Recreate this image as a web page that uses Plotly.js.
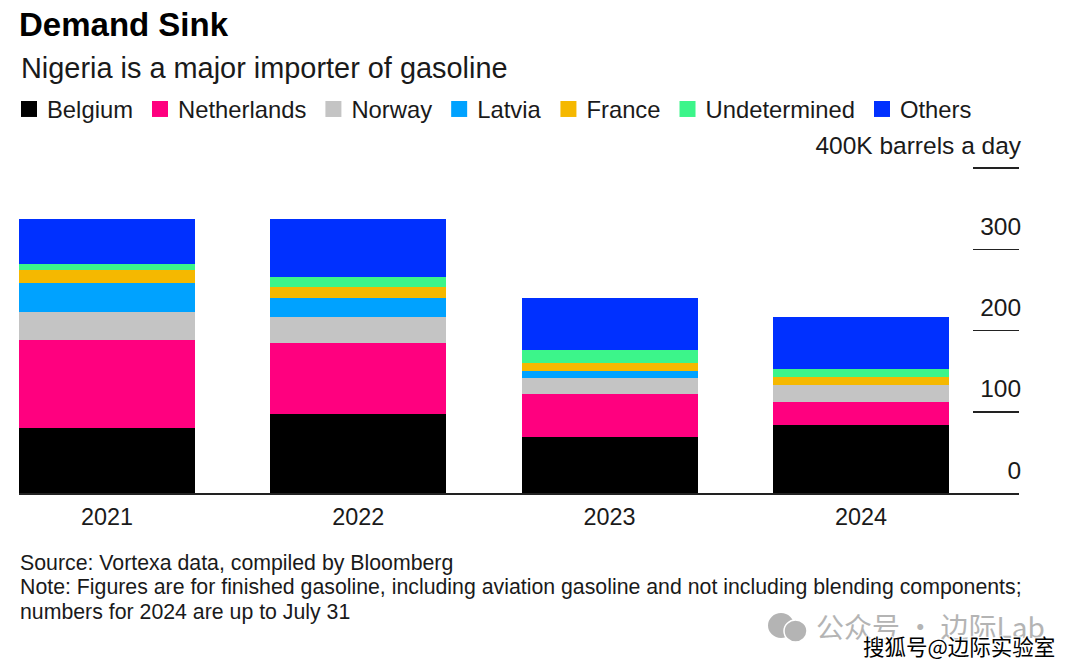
<!DOCTYPE html>
<html><head><meta charset="utf-8">
<script src="https://cdn.plot.ly/plotly-3.0.1.min.js"></script>
<style>html,body{margin:0;padding:0;background:#fff}</style></head>
<body><div id="chart" style="width:1080px;height:670px"></div>
<script>
const years = ['2021','2022','2023','2024'];
const belgium = [79.6,97.2,68.5,83.3];
const netherlands = [108.6,87,52.9,28.3];
const norway = [34.8,32,19.7,20.9];
const latvia = [34.9,24.1,9.3,0.4];
const france = [16.4,13.5,9.8,10.2];
const undetermined = [7.4,11.5,15.6,9];
const others = [55.4,72.3,64.3,64.4];
const seriesNames = ['Belgium','Netherlands','Norway','Latvia','France','Undetermined','Others'];
const seriesValues = [belgium,netherlands,norway,latvia,france,undetermined,others];
const seriesColors = ['#000000','#ff007f','#c4c4c4','#00a2ff','#f5b800','#3cf58a','#0030ff'];
const yTicks = [0,100,200,300,400];
const yTickLabels = ['0','100','200','300','400K barrels a day'];

const FW=1080,FH=670;
const px=X=>X/FW, py=Y=>1-Y/FH;
const font='"Liberation Sans", Arial, sans-serif', ink='#1a1a1a';
const note=(text,Y)=>({xref:'paper',yref:'paper',x:px(18),y:py(Y),xanchor:'left',yanchor:'middle',showarrow:false,align:'left',text,font:{family:font,size:21.3,color:ink}});

const traces=seriesNames.map((name,i)=>({type:'bar',name,x:years,y:seriesValues[i],width:0.7,marker:{color:seriesColors[i],line:{width:0}}}));

const layout={
  width:FW,height:FH,paper_bgcolor:'#fff',plot_bgcolor:'#fff',showlegend:true,
  barmode:'stack',margin:{l:0,r:0,t:0,b:0,pad:0},font:{family:font,color:ink},
  title:{text:'<b>Demand Sink</b>',xref:'container',yref:'container',x:px(19),xanchor:'left',y:1-24/FH,yanchor:'middle',font:{family:font,size:33,color:'#000'}},
  legend:{orientation:'h',x:px(7),xanchor:'left',y:py(109),yanchor:'middle',traceorder:'normal',font:{family:font,size:23.8,color:ink},itemclick:false,itemdoubleclick:false,bgcolor:'rgba(0,0,0,0)'},
  xaxis:{domain:[px(19),px(1019)],type:'category',categoryorder:'array',categoryarray:years,range:[-0.35,3.629],showgrid:false,showline:true,linecolor:'#222',linewidth:1.5,ticks:'',tickfont:{family:font,size:23.4,color:ink},ticklabelstandoff:2,zeroline:false},
  yaxis:{domain:[py(493),py(130)],anchor:'free',position:px(1019),side:'left',range:[0,446.8],tickmode:'array',tickvals:yTicks,ticktext:yTickLabels,showgrid:false,zeroline:false,showline:false,ticks:'outside',ticklen:46,tickwidth:1.5,tickcolor:'#222',ticklabelposition:'outside',ticklabelstandoff:-53,ticklabelshift:-23,tickfont:{family:font,size:24.5,color:ink}},
  annotations:[
    {xref:'paper',yref:'paper',x:px(18.5),y:py(68),xanchor:'left',yanchor:'middle',showarrow:false,text:'Nigeria is a major importer of gasoline',font:{family:font,size:28.9,color:ink}},
    note('Source: Vortexa data, compiled by Bloomberg',563),
    note('Note: Figures are for finished gasoline, including aviation gasoline and not including blending components;',587),
    note('numbers for 2024 are up to July 31',612),
    {xref:'paper',yref:'paper',x:px(814),y:py(626),xanchor:'left',yanchor:'middle',showarrow:false,text:'公众号 · 边际Lab',font:{family:'"Noto Sans CJK SC"',size:28,color:'#b4b4b4'}},
    {xref:'paper',yref:'paper',x:px(861),y:py(645),xanchor:'left',yanchor:'middle',showarrow:false,text:'搜狐号@边际实验室',font:{family:'"Noto Sans CJK SC"',size:21.5,color:'#000',shadow:'1px 1px 1px #fff, -1px -1px 1px #fff, 1px -1px 1px #fff, -1px 1px 1px #fff'}}
  ],
  shapes:[
    {type:'circle',xref:'paper',yref:'paper',x0:px(768),x1:px(794),y0:py(638),y1:py(613),fillcolor:'#b4b4b4',line:{width:0}},
    {type:'circle',xref:'paper',yref:'paper',x0:px(784),x1:px(807),y0:py(642),y1:py(620),fillcolor:'#b4b4b4',line:{color:'#fff',width:1.5}}
  ]
};
Plotly.newPlot('chart',traces,layout,{displayModeBar:false,staticPlot:true}).then(gd=>{
  gd.querySelectorAll('.legendpoints path').forEach(p=>p.setAttribute('d','M10,8H-6V-8H10Z'));
  gd.querySelectorAll('path.ytick').forEach(p=>{ if(p.__data__ && p.__data__.x===0) p.style.display='none'; });
});
</script></body></html>
